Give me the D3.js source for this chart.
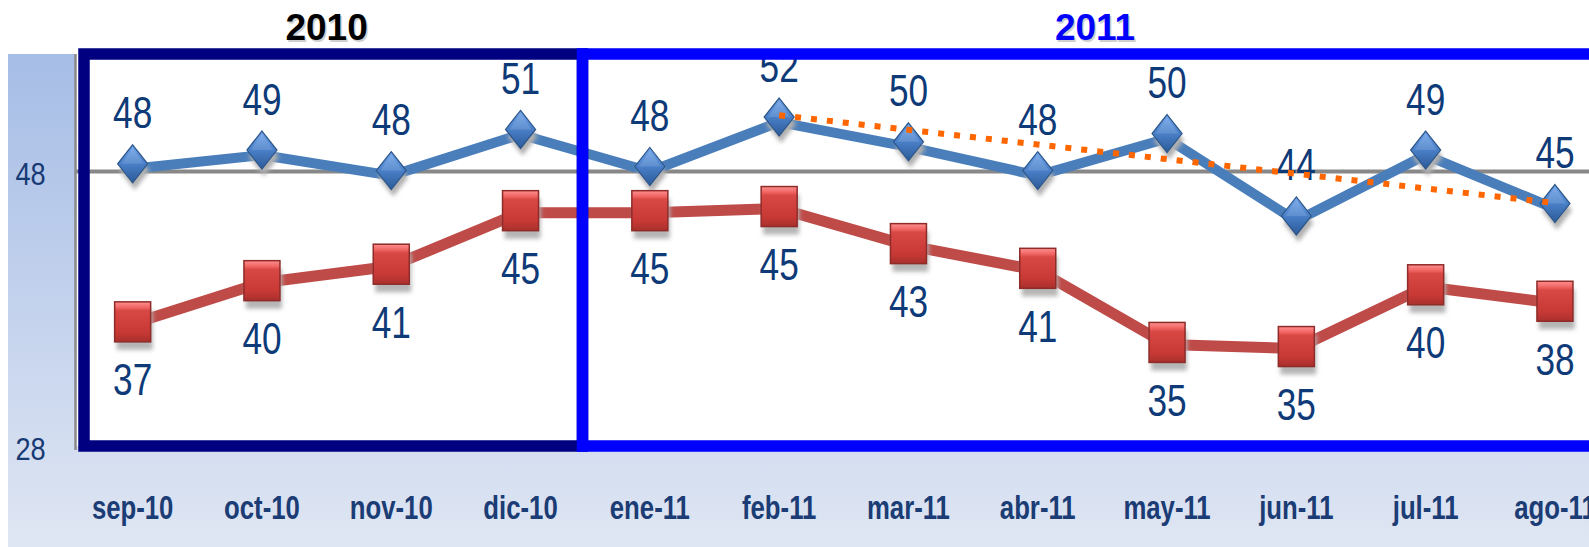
<!DOCTYPE html>
<html>
<head>
<meta charset="utf-8">
<script src="https://cdn.jsdelivr.net/npm/d3@7"></script>
<style>
  html, body { margin: 0; padding: 0; background: #ffffff; }
  svg { display: block; }
</style>
</head>
<body>
<script>
// ---------------- DATA ----------------
const months = ["sep-10","oct-10","nov-10","dic-10","ene-11","feb-11","mar-11","abr-11","may-11","jun-11","jul-11","ago-11"];
const serieAzul = [48.2, 49.2, 47.7, 50.7, 48.0, 51.6, 49.8, 47.7, 50.4, 44.4, 49.2, 45.3];
const serieRoja = [36.9, 39.9, 41.1, 45.0, 45.0, 45.3, 42.6, 40.8, 35.4, 35.1, 39.6, 38.4];
const tendenciaMeses = ["feb-11", "ago-11"];
const tendenciaValores = [52.1, 45.7];
const yTicks = [28, 48];
const yearLabels = ["2010", "2011"];
const yearFirst = ["sep-10", "ene-11"];
const yearLast = ["dic-10", "ago-11"];

// ---------------- LAYOUT ----------------
const W = 1589, H = 547;
const svg = d3.select("body").append("svg").attr("width", W).attr("height", H);

const x = d3.scaleBand().domain(months).range([68, 1619.6]).padding(0);
const bw = x.bandwidth();
const cx = m => x(m) + bw / 2;
const y = d3.scaleLinear().domain([28, 48]).range([446, 171.5]);

const plotTop = 54, plotBottom = y(28), axisX = 75.5;

const defs = svg.append("defs");
const bg = defs.append("linearGradient").attr("id", "bgGrad").attr("x1", 0).attr("y1", 0).attr("x2", 0).attr("y2", 1);
bg.append("stop").attr("offset", "0%").attr("stop-color", "#a6bde6");
bg.append("stop").attr("offset", "100%").attr("stop-color", "#dfe6f3");

const dg = defs.append("linearGradient").attr("id", "diaGrad").attr("x1", 0).attr("y1", 0).attr("x2", 0).attr("y2", 1);
dg.append("stop").attr("offset", "0%").attr("stop-color", "#74a6ea");
dg.append("stop").attr("offset", "45%").attr("stop-color", "#4d83cc");
dg.append("stop").attr("offset", "100%").attr("stop-color", "#2b5a98");

const sg = defs.append("linearGradient").attr("id", "sqGrad").attr("x1", 0).attr("y1", 0).attr("x2", 0).attr("y2", 1);
sg.append("stop").attr("offset", "0%").attr("stop-color", "#ff9090");
sg.append("stop").attr("offset", "14%").attr("stop-color", "#f06664");
sg.append("stop").attr("offset", "22%").attr("stop-color", "#d84844");
sg.append("stop").attr("offset", "75%").attr("stop-color", "#c83935");
sg.append("stop").attr("offset", "100%").attr("stop-color", "#a9302d");

const blur = defs.append("filter").attr("id", "blur").attr("x", "-50%").attr("y", "-50%").attr("width", "200%").attr("height", "200%");
blur.append("feGaussianBlur").attr("stdDeviation", 2);

// background panel
svg.append("rect").attr("x", 8).attr("y", plotTop).attr("width", W - 8).attr("height", H - plotTop)
  .attr("fill", "url(#bgGrad)");
// white plot area
svg.append("rect").attr("x", axisX).attr("y", plotTop).attr("width", W - axisX).attr("height", plotBottom - plotTop)
  .attr("fill", "#ffffff");

// gridline at 48
svg.append("g").selectAll("line").data([48]).join("line")
  .attr("x1", axisX).attr("x2", W).attr("y1", d => y(d)).attr("y2", d => y(d))
  .attr("stroke", "#888888").attr("stroke-width", 4);

// y axis
svg.append("line").attr("x1", axisX).attr("x2", axisX).attr("y1", plotTop).attr("y2", plotBottom + 4)
  .attr("stroke", "#8a8a8a").attr("stroke-width", 2.5);
const yAxis = svg.append("g").attr("transform", `translate(${axisX},0)`)
  .call(d3.axisLeft(y).tickValues(yTicks).tickSize(0).tickFormat(d3.format("d")));
yAxis.select(".domain").remove();
yAxis.selectAll("text")
  .attr("text-anchor", "middle")
  .attr("x", -45 / 0.85)
  .attr("dy", "0.42em")
  .attr("transform", "scale(0.85,1)")
  .style("font-family", "'Liberation Sans', Arial, sans-serif")
  .style("font-size", "32px")
  .attr("fill", "#173a74");

// lines
const line = d3.line().x((d, i) => cx(months[i])).y(d => y(d));
svg.append("path").datum(serieAzul).attr("d", line).attr("fill", "none")
  .attr("stroke", "#4a7ebb").attr("stroke-width", 10).attr("stroke-linejoin", "round");
svg.append("path").datum(serieRoja).attr("d", line).attr("fill", "none")
  .attr("stroke", "#be4b48").attr("stroke-width", 11).attr("stroke-linejoin", "round");

// diamond markers
const hw = 15, hh = 19;
const diaPath = `M0,${-hh}L${hw},0L0,${hh}L${-hw},0Z`;
const dm = svg.append("g").selectAll("g").data(serieAzul).join("g")
  .attr("transform", (d, i) => `translate(${cx(months[i])},${y(d) - 5})`);
dm.append("path").attr("d", diaPath).attr("transform", "translate(2,7)").attr("fill", "#b0b0b0").attr("filter", "url(#blur)");
dm.append("path").attr("d", diaPath).attr("fill", "url(#diaGrad)").attr("stroke", "#2c5689").attr("stroke-width", 1.2);
dm.append("path").attr("d", `M0,${-hh + 3}L${hw - 4},0L${-hw + 4},0Z`).attr("fill", "#ffffff").attr("opacity", 0.12);

// square markers
const sw = 36, sh = 40;
const sm = svg.append("g").selectAll("g").data(serieRoja).join("g")
  .attr("transform", (d, i) => `translate(${cx(months[i])},${y(d)})`);
sm.append("rect").attr("x", -sw / 2 + 2).attr("y", -22 + 8).attr("width", sw).attr("height", sh)
  .attr("fill", "#b5b5b5").attr("filter", "url(#blur)");
sm.append("rect").attr("x", -sw / 2).attr("y", -22).attr("width", sw).attr("height", sh)
  .attr("fill", "url(#sqGrad)").attr("stroke", "#8e2c2a").attr("stroke-width", 1.5);

// data labels
const fmt = d3.format(".0f");
const labelStyle = sel => sel
  .attr("text-anchor", "middle")
  .style("font-family", "'Liberation Sans', Arial, sans-serif")
  .style("font-size", "44px")
  .attr("fill", "#0e3a78");
svg.append("g").selectAll("text").data(serieAzul).join("text")
  .attr("transform", (d, i) => `translate(${cx(months[i])},${y(d) - 40.5}) scale(0.8,1)`)
  .text(d => fmt(d)).call(labelStyle);
svg.append("g").selectAll("text").data(serieRoja).join("text")
  .attr("transform", (d, i) => `translate(${cx(months[i])},${y(d) + 71.5}) scale(0.8,1)`)
  .text(d => fmt(d)).call(labelStyle);

// trend line (dotted orange)
svg.append("path").datum(tendenciaValores)
  .attr("d", d3.line().x((d, i) => cx(tendenciaMeses[i])).y(d => y(d)))
  .attr("fill", "none").attr("stroke", "#ff6600").attr("stroke-width", 6)
  .attr("stroke-dasharray", "6 10");

// year boxes
const sw2 = 11.5;
const box2010 = { x0: x(yearFirst[0]) + 16, x1: x(yearFirst[1]) - 2.7 };
const box2011 = { x0: x(yearFirst[1]) - 2.7, x1: x(yearLast[1]) + bw - 12 };
svg.append("rect").attr("x", box2010.x0).attr("y", plotTop).attr("width", box2010.x1 - box2010.x0)
  .attr("height", plotBottom - plotTop).attr("fill", "none").attr("stroke", "#000080").attr("stroke-width", sw2);
svg.append("rect").attr("x", box2011.x0).attr("y", plotTop).attr("width", box2011.x1 - box2011.x0)
  .attr("height", plotBottom - plotTop).attr("fill", "none").attr("stroke", "#0000ff").attr("stroke-width", sw2);

// year titles
const titleX = [(x(yearFirst[0]) + x(yearLast[0]) + bw) / 2, (box2011.x0 + box2011.x1) / 2];
const titleColor = ["#000000", "#0000ff"];
yearLabels.forEach((t, i) => {
  svg.append("text").attr("x", titleX[i] + 1.5).attr("y", 41.5).attr("text-anchor", "middle")
    .style("font-family", "'Liberation Sans', Arial, sans-serif").style("font-size", "37px").style("font-weight", "bold")
    .attr("fill", "#d0d0d0").text(t);
  svg.append("text").attr("x", titleX[i]).attr("y", 40).attr("text-anchor", "middle")
    .style("font-family", "'Liberation Sans', Arial, sans-serif").style("font-size", "37px").style("font-weight", "bold")
    .attr("fill", titleColor[i]).text(t);
});

// x axis labels
const xAxis = svg.append("g").attr("transform", `translate(0,${plotBottom})`)
  .call(d3.axisBottom(x).tickSize(0));
xAxis.select(".domain").remove();
xAxis.selectAll("text")
  .attr("y", 0).attr("dy", 0)
  .attr("transform", "translate(0,73) scale(0.78,1)")
  .style("font-family", "'Liberation Sans', Arial, sans-serif")
  .style("font-size", "33px")
  .style("font-weight", "bold")
  .attr("fill", "#1b3c74");
</script>
</body>
</html>
